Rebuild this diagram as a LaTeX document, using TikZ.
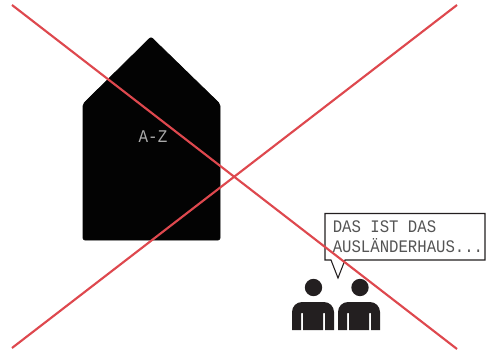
\documentclass[tikz,border=0pt]{standalone}
\usepackage{fontspec}
\usepackage{xcolor}
\usepackage{tikz}
\usetikzlibrary{positioning, calc, shapes.geometric}
\setmonofont{Liberation Mono}
\newfontfamily\speechfont[FakeStretch=0.89]{Liberation Mono}
\definecolor{crossred}{RGB}{222, 72, 78}
\definecolor{houseblack}{RGB}{3, 3, 3}
\definecolor{figureblack}{RGB}{35, 31, 32}
\definecolor{labelgrey}{RGB}{170, 170, 170}
\definecolor{speechgrey}{RGB}{85, 85, 85}
\tikzset{
  font=\ttfamily,
  crossline/.style={draw=crossred, line width=1.6pt},
  housebody/.style={fill=houseblack, draw=houseblack, line width=0.5pt, rounded corners=1.5pt},
  headblock/.style={circle, fill=figureblack, inner sep=0pt, minimum size=13pt},
  bodyblock/.style={fill=figureblack, draw=none},
  bubbleline/.style={draw=figureblack, fill=white, line width=0.8pt}
}
\begin{document}
\begin{tikzpicture}[x=0.75pt, y=-0.75pt]
  \useasboundingbox (0,0) rectangle (486,353);

  % house
  \coordinate (roof) at (151,37);
  \coordinate (eaveleft) at (83,104);
  \coordinate (eaveright) at (220,104);
  \coordinate (baseleft) at (83,240);
  \coordinate (baseright) at (220,240);
  \draw[housebody] (roof) -- (eaveright) -- (baseright) -- (baseleft) -- (eaveleft) -- cycle;
  \node[text=labelgrey, font=\speechfont\fontsize{13.4}{15}\selectfont, inner sep=0pt] (housetext) at (153,137) {A-Z};

  % speech bubble
  \coordinate (bubblenw) at (325,213.5);
  \coordinate (bubblese) at (485,260);
  \coordinate (tailleft) at (331,260);
  \coordinate (tailright) at (345,260);
  \coordinate (tailtip) at (338,278);
  \draw[bubbleline] (bubblenw) -| (bubblese) -- (tailright) -- (tailtip) -- (tailleft) -- (bubblenw |- bubblese) -- cycle;
  \node[anchor=base west, align=left, inner sep=0pt, text=speechgrey,
        font=\speechfont\fontsize{13.2}{15}\selectfont] (speech) at (332.5,252) {DAS IST DAS\\AUSLÄNDERHAUS...};

  % two people
  \node[headblock] (headleft) at (313.5,287.5) {};
  \node[headblock] (headright) at (360,287.5) {};
  \foreach \bodyx/\bodyname in {292/bodyleft, 338/bodyright}{
    \fill[bodyblock] (\bodyx,330) -- (\bodyx,312) arc[start angle=180, end angle=270, radius=10]
      -- ++(22,0) arc[start angle=270, end angle=360, radius=10] -- ++(0,18)
      -- ++(-9,0) -- ++(0,-17) -- ++(-2,0) -- ++(0,17) -- ++(-20,0) -- ++(0,-17) -- ++(-2,0) -- ++(0,17) -- cycle;
    \coordinate (\bodyname) at (\bodyx,330);
  }

  % crossing out
  \draw[crossline] (12,5) coordinate (crossa) -- (457,349) coordinate (crossb);
  \draw[crossline] (12,348) coordinate (crossc) -- (457,5) coordinate (crossd);
\end{tikzpicture}
\end{document}
